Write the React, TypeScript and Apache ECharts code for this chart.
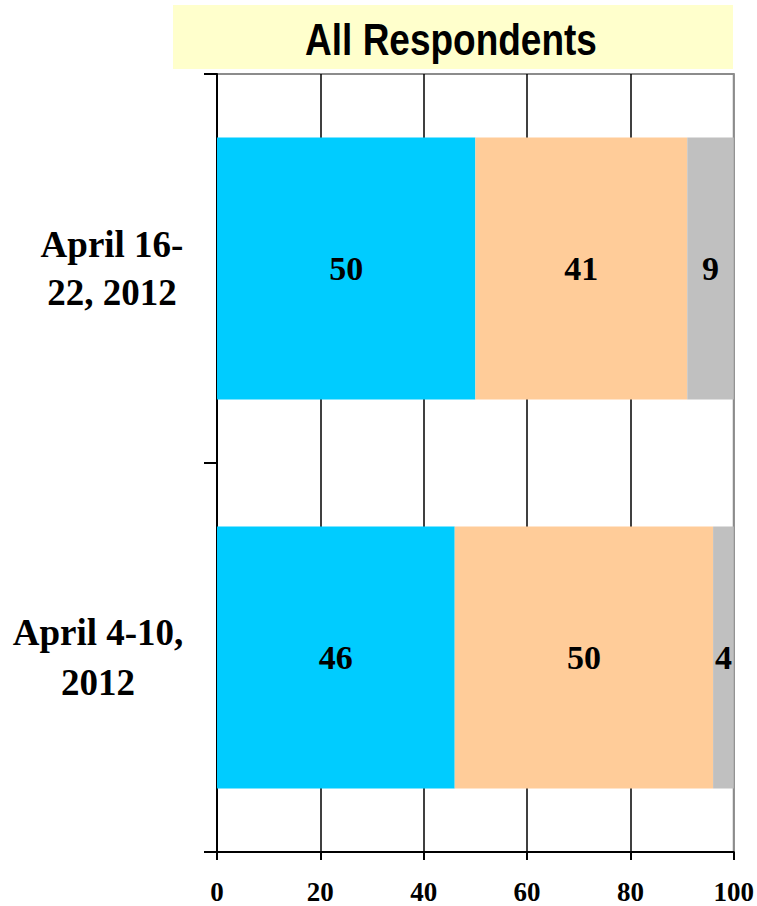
import React, { useEffect, useRef } from "react";
import * as echarts from "echarts";

const categories = ["April 4-10, 2012", "April 16-22, 2012"];
const categoryLabelLines = [
  ["April 4-10,", "2012"],
  ["April 16-", "22, 2012"],
];
const seriesA = [46, 50];
const seriesB = [50, 41];
const seriesC = [4, 9];
const xTicks = [0, 20, 40, 60, 80, 100];
const titleText = "All Respondents";

const SERIF = "'Liberation Serif', 'Times New Roman', serif";
const SANS = "'Liberation Sans', Arial, sans-serif";

export default function App() {
  const ref = useRef<HTMLDivElement>(null);
  useEffect(() => {
    if (!ref.current) return;
    const chart = echarts.init(ref.current, undefined, { renderer: "svg" });
    const labelStyle = {
      show: true,
      position: "inside",
      fontSize: 34,
      fontWeight: "bold",
      fontFamily: SERIF,
      color: "#000",
    };
    const mkSeries = (name: string, data: number[], color: string) => ({
      name,
      type: "bar",
      stack: "total",
      data,
      barWidth: 262,
      itemStyle: { color },
      label: labelStyle,
      z: 3,
    });
    chart.setOption({
      animation: false,
      backgroundColor: "#fff",
      grid: {
        left: 217,
        right: 22,
        top: 74,
        bottom: 54,
        show: true,
        borderColor: "#8c8c8c",
        borderWidth: 2,
        backgroundColor: "transparent",
        containLabel: false,
      },
      graphic: [
        {
          type: "rect",
          shape: { x: 173, y: 5, width: 560, height: 64 },
          style: { fill: "#FFFFCC" },
          silent: true,
        },
        {
          type: "text",
          x: 451,
          y: 40,
          scaleY: 1.18,
          style: {
            text: titleText,
            fontSize: 37,
            fontWeight: "bold",
            fontFamily: SANS,
            fill: "#000",
            align: "center",
            verticalAlign: "middle",
            textAlign: "center",
            textVerticalAlign: "middle",
          },
          silent: true,
        },
      ],
      xAxis: {
        type: "value",
        min: 0,
        max: 100,
        interval: 20,
        axisLine: { show: true, lineStyle: { color: "#000", width: 2 } },
        axisTick: { show: true, length: 8, lineStyle: { color: "#000", width: 2 } },
        splitLine: {
          show: true,
          lineStyle: {
            color: ["#000", "#000", "#000", "#000", "#000", "#8c8c8c"],
            width: 1.5,
          },
        },
        axisLabel: {
          margin: 26,
          fontSize: 27,
          fontWeight: "bold",
          fontFamily: SERIF,
          color: "#000",
          formatter: (v: number) => (xTicks.includes(v) ? String(v) : ""),
        },
      },
      yAxis: {
        type: "category",
        data: categories,
        axisLine: { show: true, lineStyle: { color: "#000", width: 2 } },
        axisTick: { show: true, length: 13, lineStyle: { color: "#000", width: 2 } },
        splitLine: { show: false },
        axisLabel: {
          margin: 31,
          align: "right",
          formatter: (_v: string, idx: number) =>
            categoryLabelLines[idx].map((l) => `{w${idx}|${l}}`).join("\n"),
          rich: {
            w0: {
              width: 176,
              align: "center",
              fontSize: 37,
              fontWeight: "bold",
              fontFamily: SERIF,
              color: "#000",
              lineHeight: 50,
            },
            w1: {
              width: 148,
              align: "center",
              fontSize: 37,
              fontWeight: "bold",
              fontFamily: SERIF,
              color: "#000",
              lineHeight: 48,
            },
          },
        },
      },
      series: [
        mkSeries("Series 1", seriesA, "#00CCFF"),
        mkSeries("Series 2", seriesB, "#FFCC99"),
        mkSeries("Series 3", seriesC, "#C0C0C0"),
      ],
    });
    return () => chart.dispose();
  }, []);
  return (
    <div
      ref={ref}
      style={{ position: "fixed", left: 0, top: 0, width: 757, height: 906, background: "#fff" }}
    />
  );
}
